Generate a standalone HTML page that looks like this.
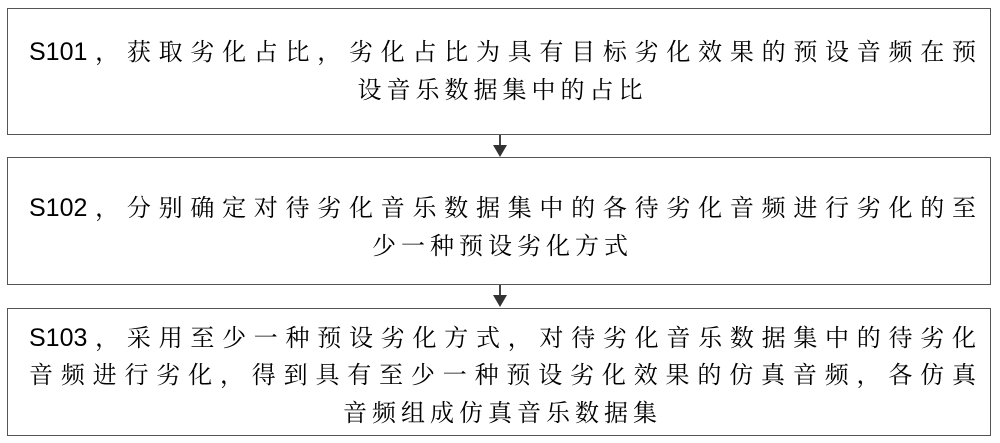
<!DOCTYPE html>
<html><head><meta charset="utf-8"><style>
body{margin:0;width:1000px;height:443px;background:#fff;position:relative;overflow:hidden;font-family:"Noto Serif CJK SC","WenQuanYi Zen Hei",serif;}
.box{position:absolute;left:7px;width:984px;border:1.5px solid #555;box-sizing:border-box;}
.l{position:absolute;left:21px;width:947px;font-size:24px;line-height:38px;height:38px;color:#000;white-space:nowrap;}
.j{text-align:justify;text-align-last:justify;}
.c{text-align:center;letter-spacing:5px;}
.s{font-family:"Liberation Sans Narrow","Liberation Sans",sans-serif;font-size:25px;letter-spacing:0;}
.v{position:absolute;left:499px;width:1.5px;background:#444;}
.a{position:absolute;left:493px;width:0;height:0;border-left:7px solid transparent;border-right:7px solid transparent;border-top:12px solid #333;}
</style></head><body>
<div class="box" style="top:8px;height:127px;">
<div class="l j" style="top:22px"><span class="s">S101</span>，获取劣化占比，劣化占比为具有目标劣化效果的预设音频在预</div>
<div class="l c" style="top:60px">设音乐数据集中的占比</div>
</div>
<div class="v" style="top:135px;height:12px"></div><div class="a" style="top:145px"></div>
<div class="box" style="top:157px;height:128px;">
<div class="l j" style="top:29px"><span class="s">S102</span>，分别确定对待劣化音乐数据集中的各待劣化音频进行劣化的至</div>
<div class="l c" style="top:67px">少一种预设劣化方式</div>
</div>
<div class="v" style="top:285px;height:12px"></div><div class="a" style="top:295px"></div>
<div class="box" style="top:308px;height:128px;">
<div class="l j" style="top:8px"><span class="s">S103</span>，采用至少一种预设劣化方式，对待劣化音乐数据集中的待劣化</div>
<div class="l j" style="top:45px">音频进行劣化，得到具有至少一种预设劣化效果的仿真音频，各仿真</div>
<div class="l c" style="top:83px">音频组成仿真音乐数据集</div>
</div>
</body></html>
